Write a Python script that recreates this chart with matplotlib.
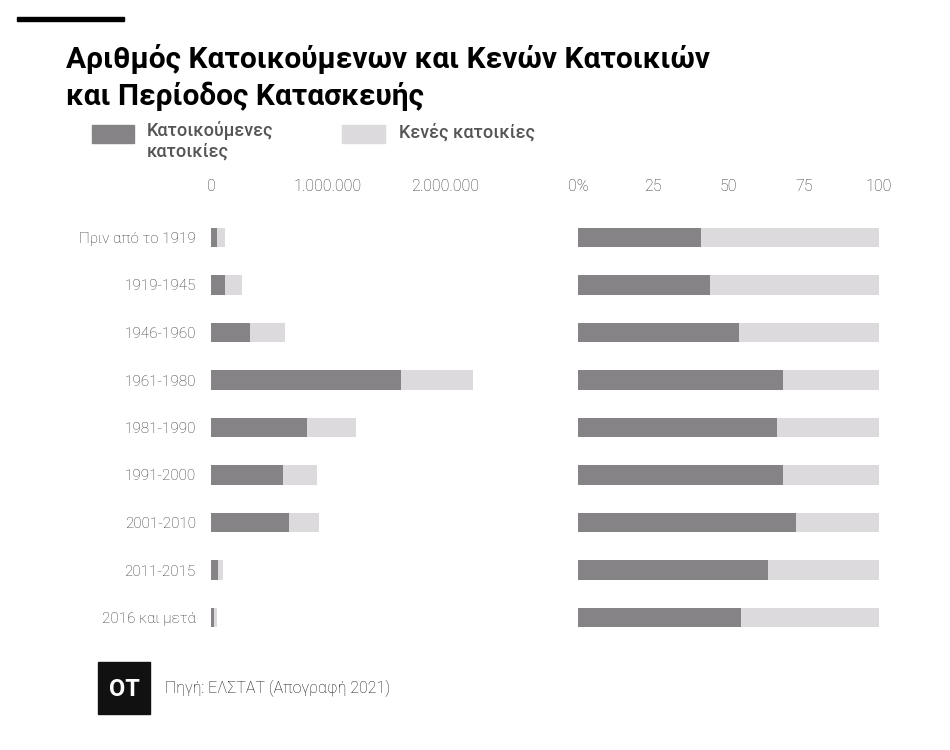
import matplotlib
matplotlib.use('Agg')
import matplotlib.pyplot as plt
from matplotlib.ticker import FuncFormatter

plt.rcParams['font.family'] = ['Roboto', 'DejaVu Sans']

# ===================== data =====================
periods = ['Πριν από το 1919', '1919-1945', '1946-1960', '1961-1980', '1981-1990',
           '1991-2000', '2001-2010', '2011-2015', '2016 και μετά']
occupied = [49000, 117000, 335000, 1626000, 818000, 613000, 667000, 60000, 26000]
vacant = [71000, 148000, 295000, 614000, 419000, 293000, 256000, 43000, 25000]
occupied_pct = [41, 44, 53.6, 68.1, 66.1, 68, 72.4, 63.1, 54.2]
vacant_pct = [100 - p for p in occupied_pct]

dark = '#858386'
light = '#dcdadd'
W, H = 950, 750

fig = plt.figure(figsize=(9.5, 7.5), dpi=100)


def px_axes(x0, y0, x1, y1):
    return fig.add_axes([x0 / W, 1 - y1 / H, (x1 - x0) / W, (y1 - y0) / H])


# top black bar
fig.patches.append(plt.Rectangle((17 / W, 1 - 21 / H), 107 / W, 4 / H,
                                 transform=fig.transFigure, color='black'))

# title
fig.text(66 / W, 1 - 68 / H, 'Αριθμός Κατοικούμενων και Κενών Κατοικιών',
         fontsize=21.5, fontweight='bold', color='black', va='baseline')
fig.text(66 / W, 1 - 105 / H, 'και Περίοδος Κατασκευής',
         fontsize=21.5, fontweight='bold', color='black', va='baseline')

# legend
fig.patches.append(plt.Rectangle((92 / W, 1 - 143 / H), 42 / W, 18 / H,
                                 transform=fig.transFigure, color=dark))
fig.patches.append(plt.Rectangle((342 / W, 1 - 143 / H), 43 / W, 18 / H,
                                 transform=fig.transFigure, color=light))
fig.text(147 / W, 1 - 121 / H, 'Κατοικούμενες\nκατοικίες', fontsize=13,
         fontweight='medium', color='#555555', va='top', ha='left',
         linespacing=1.2)
fig.text(399 / W, 1 - 132 / H, 'Κενές κατοικίες', fontsize=13,
         fontweight='medium', color='#555555', va='center', ha='left')

y = list(range(len(periods)))
bh = 0.42

# left panel: absolute numbers
ax1 = px_axes(211, 213.75, 211 + 2.4 * 117, 641.25)
ax1.barh(y, occupied, height=bh, color=dark)
ax1.barh(y, vacant, left=occupied, height=bh, color=light)
ax1.set_xlim(0, 2400000)
ax1.set_ylim(len(periods) - 0.5, -0.5)
ax1.set_xticks([0, 1000000, 2000000])
ax1.xaxis.set_major_formatter(FuncFormatter(lambda v, p: f'{int(v):,}'.replace(',', '.')))
ax1.set_yticks(y)
ax1.set_yticklabels(periods)

# right panel: percentages
ax2 = px_axes(578, 213.75, 879, 641.25)
ax2.barh(y, occupied_pct, height=bh, color=dark)
ax2.barh(y, vacant_pct, left=occupied_pct, height=bh, color=light)
ax2.set_xlim(0, 100)
ax2.set_ylim(len(periods) - 0.5, -0.5)
ax2.set_xticks([0, 25, 50, 75, 100])
ax2.set_xticklabels(['0%', '25', '50', '75', '100'])
ax2.set_yticks([])

for ax in (ax1, ax2):
    for s in ax.spines.values():
        s.set_visible(False)
    ax.xaxis.tick_top()
    ax.tick_params(axis='x', length=0, pad=14, labelsize=11.5, labelcolor='#333333')
    ax.tick_params(axis='y', length=0, pad=11, labelsize=11, labelcolor='#333333')
    for lab in ax.get_xticklabels() + ax.get_yticklabels():
        lab.set_fontweight('light')

# footer
fig.patches.append(plt.Rectangle((98 / W, 1 - 714 / H), 52 / W, 52 / H,
                                 transform=fig.transFigure, color='#111111'))
fig.text(124 / W, 1 - 689 / H, 'OT', fontsize=17, fontweight='bold', color='white',
         ha='center', va='center')
fig.text(165 / W, 1 - 688 / H, 'Πηγή: ΕΛΣΤΑΤ (Απογραφή 2021)', fontsize=11.5,
         fontweight='light', color='#111111', ha='left', va='center')

fig.savefig('out.png', dpi=100, facecolor='white')
